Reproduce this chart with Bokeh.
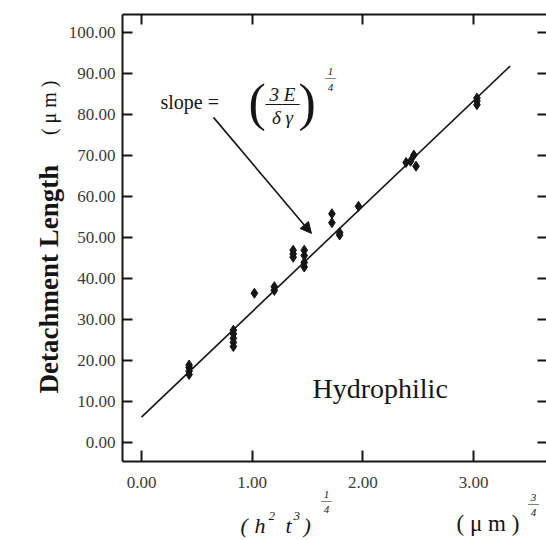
from bokeh.plotting import figure
from bokeh.models import (LinearAxis, FixedTicker, PrintfTickFormatter, Label,
                          Arrow, NormalHead)
from bokeh.embed import file_html
from bokeh.resources import INLINE
import math

# Detachment length (um) versus (h^2 t^3)^(1/4) for hydrophilic surfaces
x_vals = [0.43, 0.43, 0.43, 0.43,
          0.83, 0.83, 0.83, 0.83, 0.83,
          1.02,
          1.20, 1.20,
          1.37, 1.37, 1.37,
          1.47, 1.47, 1.47, 1.47,
          1.72, 1.72,
          1.79, 1.79,
          1.96,
          2.39, 2.43, 2.46, 2.48,
          3.03, 3.03, 3.03]
y_vals = [16.6, 17.4, 18.3, 18.9,
          23.4, 24.4, 25.4, 26.5, 27.4,
          36.4,
          37.1, 38.0,
          45.2, 46.0, 46.9,
          42.8, 43.9, 45.6, 46.9,
          53.6, 55.8,
          50.6, 51.2,
          57.6,
          68.3, 68.6, 70.1, 67.4,
          82.4, 83.3, 84.0]

# least-squares line through the points
fit_x = [0.0, 3.33]
fit_y = [6.2, 91.8]

x_ticks = [0, 1, 2, 3]
y_ticks = [0, 10, 20, 30, 40, 50, 60, 70, 80, 90, 100]

W, H = 546, 540
# canvas pixel of the data origin and pixels per data unit
X0_PX, X_PX_PER_UNIT = 141.0, 110.7
Y0_PX, Y_PX_PER_UNIT = 442.0, 4.1


def ax_x(px):
    return (px - X0_PX) / X_PX_PER_UNIT


def ax_y(py):
    return (Y0_PX - py) / Y_PX_PER_UNIT


# the frame fills the whole canvas; the boxed axes sit inside it
BOX_L, BOX_T, BOX_B, BOX_R = ax_x(122), ax_y(14), ax_y(461), ax_x(W)

SERIF = "Liberation Serif"
INK = "#151515"
LABEL_INK = "#3a3a3a"

p = figure(width=W, height=H, x_range=(ax_x(0), ax_x(W)), y_range=(ax_y(H), ax_y(0)),
           output_backend="svg", toolbar_location=None,
           min_border_left=0, min_border_right=0,
           min_border_top=0, min_border_bottom=0)
p.outline_line_color = None
p.xgrid.visible = False
p.ygrid.visible = False
p.background_fill_color = "white"
p.border_fill_color = "white"


def style_axis(ax, ticks, tick_in, show_labels, location, bounds,
               line=True, standoff=0):
    ax.fixed_location = location
    ax.bounds = bounds
    ax.ticker = FixedTicker(ticks=ticks)
    ax.axis_line_color = INK if line else None
    ax.axis_line_width = 2
    ax.major_tick_in = tick_in
    ax.major_tick_out = 0
    ax.major_tick_line_color = INK
    ax.major_tick_line_width = 2
    ax.minor_tick_line_color = None
    ax.major_label_standoff = standoff
    if show_labels:
        ax.formatter = PrintfTickFormatter(format="%.2f")
        ax.major_label_text_font = SERIF
        ax.major_label_text_font_size = "17px"
        ax.major_label_text_color = LABEL_INK
    else:
        ax.major_label_text_font_size = "0px"
        ax.major_label_text_alpha = 0


style_axis(p.xaxis[0], x_ticks, 11, True, BOX_B, (BOX_L, BOX_R), standoff=15)
style_axis(p.yaxis[0], y_ticks, 10, True, BOX_L, (BOX_B, BOX_T), standoff=7)

top_axis = LinearAxis()
style_axis(top_axis, x_ticks, 10, False, BOX_T, (BOX_L, BOX_R))
p.add_layout(top_axis, "above")

right_axis = LinearAxis()
style_axis(right_axis, y_ticks, 9, False, BOX_R, (BOX_B, BOX_T), line=False)
p.add_layout(right_axis, "right")

# measured points and fitted line
p.line(fit_x, fit_y, line_color=INK, line_width=1.6)
p.scatter(x_vals, y_vals, marker="diamond", size=10,
          fill_color=INK, line_color=INK, line_width=1)


def note(text, px, py, size, align="left", baseline="alphabetic",
         style="normal", angle=0.0, color=INK):
    p.add_layout(Label(x=ax_x(px), y=ax_y(py), text=text, text_font=SERIF,
                       text_font_size=f"{size}px", text_align=align,
                       text_baseline=baseline, text_font_style=style,
                       angle=angle, text_color=color))


# y-axis title
note("Detachment Length", 48, 393, 27, align="left", baseline="middle",
     style="bold", angle=math.pi / 2)
note("( μ m )", 48, 80, 20, align="right", baseline="middle",
     angle=math.pi / 2)

# x-axis title with raised powers and fractional exponents
note("(", 240, 525, 22, style="italic")
note("h", 254, 525, 22, style="italic")
note("2", 268, 515, 13, style="italic")
note("t", 285, 525, 22, style="italic")
note("3", 293, 515, 13, style="italic")
note(")", 303, 525, 22, style="italic")
note("1", 326, 494, 11, align="center", style="italic")
note("—", 326, 499, 11, align="center")
note("4", 326, 509, 11, align="center", style="italic")

note("( μ m )", 456, 523, 23)
note("3", 533, 497, 11, align="center", style="italic")
note("—", 533, 502, 11, align="center")
note("4", 533, 512, 11, align="center", style="italic")

# slope annotation
note("slope  =", 160, 101, 20)
note("(", 248, 102, 52)
note("3 E", 282, 94, 19, align="center", style="italic")
note("——", 282, 102, 17, align="center")
note("δ γ", 282, 117, 19, align="center", style="italic")
note(")", 298, 102, 52)
note("1", 330, 71, 11, align="center", style="italic")
note("—", 330, 76, 11, align="center")
note("4", 330, 87, 11, align="center", style="italic")

arrow_start = (0.65, 79.3)
arrow_end = (1.535, 51.0)
p.add_layout(Arrow(end=NormalHead(size=11, fill_color=INK, line_color=INK),
                   x_start=arrow_start[0], y_start=arrow_start[1],
                   x_end=arrow_end[0], y_end=arrow_end[1],
                   line_color=INK, line_width=1.6))

note("Hydrophilic", 312, 388, 28)

open("out.html", "w").write(file_html(p, INLINE))
